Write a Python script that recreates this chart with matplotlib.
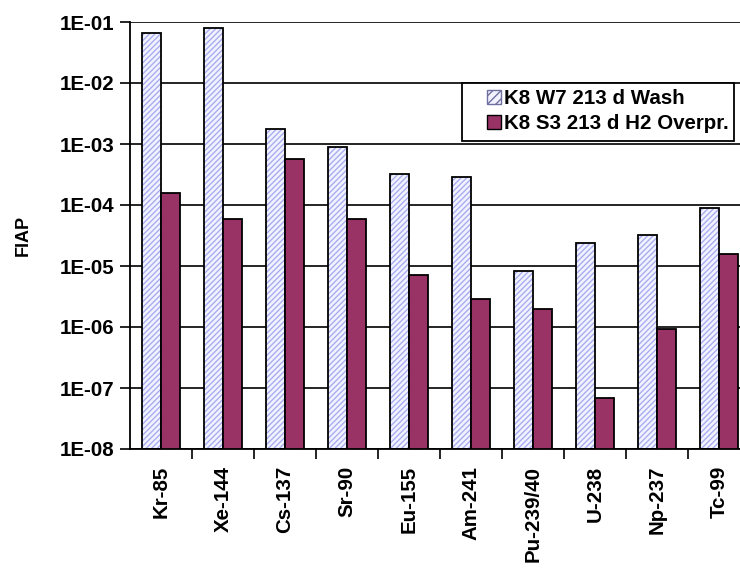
import numpy as np
import matplotlib.pyplot as plt
from matplotlib.ticker import FixedLocator, FuncFormatter, NullFormatter

plt.rcParams['font.family'] = ['Liberation Sans', 'DejaVu Sans']
plt.rcParams['font.weight'] = 'bold'
plt.rcParams['hatch.linewidth'] = 1.0

nuclides = ['Kr-85', 'Xe-144', 'Cs-137', 'Sr-90', 'Eu-155',
            'Am-241', 'Pu-239/40', 'U-238', 'Np-237', 'Tc-99']
wash = [6.5e-2, 8.1e-2, 1.75e-3, 8.8e-4, 3.2e-4,
        2.9e-4, 8.4e-6, 2.4e-5, 3.2e-5, 8.8e-5]
overpr = [1.6e-4, 6.0e-5, 5.6e-4, 6.0e-5, 7.2e-6,
          2.9e-6, 2.0e-6, 6.8e-8, 9.1e-7, 1.56e-5]
wash_label = 'K8 W7 213 d Wash'
overpr_label = 'K8 S3 213 d H2 Overpr.'

fs = 14.8

fig = plt.figure(figsize=(7.4, 5.71), dpi=100)
# plot area runs a little past the right edge of the image, as in the original
ax = fig.add_axes([130 / 740, 1 - 449 / 571, 620 / 740, 427 / 571])

x = np.arange(len(nuclides))
w = 0.3
base = 1e-8

# hatched bars: draw hatch first, then black outline on top
ax.bar(x - w / 2, np.array(wash) - base, w, bottom=base, color='#f2f3ff',
       edgecolor='#a9adf0', hatch='//////', linewidth=0, zorder=2)
ax.bar(x - w / 2, np.array(wash) - base, w, bottom=base, fill=False,
       edgecolor='black', linewidth=1.3, zorder=3)
ax.bar(x + w / 2, np.array(overpr) - base, w, bottom=base, color='#993366',
       edgecolor='black', linewidth=1.3, zorder=3)

ax.set_yscale('log')
ax.set_ylim(1e-8, 1e-1)
ax.set_xlim(-0.5, len(nuclides) - 0.5)

ax.yaxis.set_major_locator(FixedLocator([10.0 ** k for k in range(-8, 0)]))
ax.yaxis.set_minor_locator(FixedLocator([]))
ax.yaxis.set_major_formatter(FuncFormatter(lambda v, p: '1E-%02d' % round(-np.log10(v))))
ax.grid(axis='y', color='black', linewidth=1.2, zorder=1)

ax.set_xticks(x)
ax.set_xticklabels(nuclides, rotation=90, fontsize=fs, fontweight='bold')
ax.xaxis.set_minor_locator(FixedLocator(x[:-1] + 0.5))
ax.xaxis.set_minor_formatter(NullFormatter())
ax.tick_params(axis='x', which='major', length=0, pad=12)
ax.tick_params(axis='x', which='minor', length=7, width=1.2, direction='out')
ax.tick_params(axis='y', which='major', length=7, width=1.2, direction='out',
               labelsize=fs, pad=4)
for lab in ax.get_yticklabels():
    lab.set_fontweight('bold')

for s in ['top', 'right']:
    ax.spines[s].set_visible(False)
ax.spines['left'].set_linewidth(1.3)
ax.spines['bottom'].set_linewidth(1.3)

ax.set_ylabel('FIAP', fontsize=13, fontweight='bold', labelpad=20)

# legend box drawn separately (Excel style: wide left margin)
box = plt.Rectangle((462 / 740, 1 - 141 / 571), (734 - 462) / 740, 58 / 571,
                    transform=fig.transFigure, facecolor='white',
                    edgecolor='black', linewidth=1.3, zorder=5)
fig.patches.append(box)

leg_handles = [
    plt.Rectangle((0, 0), 1, 1, facecolor='#f2f3ff', edgecolor='#7070a0', hatch='////'),
    plt.Rectangle((0, 0), 1, 1, facecolor='#993366', edgecolor='black'),
]
leg = fig.legend(leg_handles, [wash_label, overpr_label], loc='upper left',
                 bbox_to_anchor=(487 / 740, 1 - 89 / 571),
                 prop={'size': fs, 'weight': 'bold'},
                 frameon=False, handlelength=0.7, handleheight=0.7,
                 handletextpad=0.15, borderpad=0.0, labelspacing=0.3,
                 borderaxespad=0)
leg.set_zorder(6)

fig.savefig('out.png', dpi=100)
